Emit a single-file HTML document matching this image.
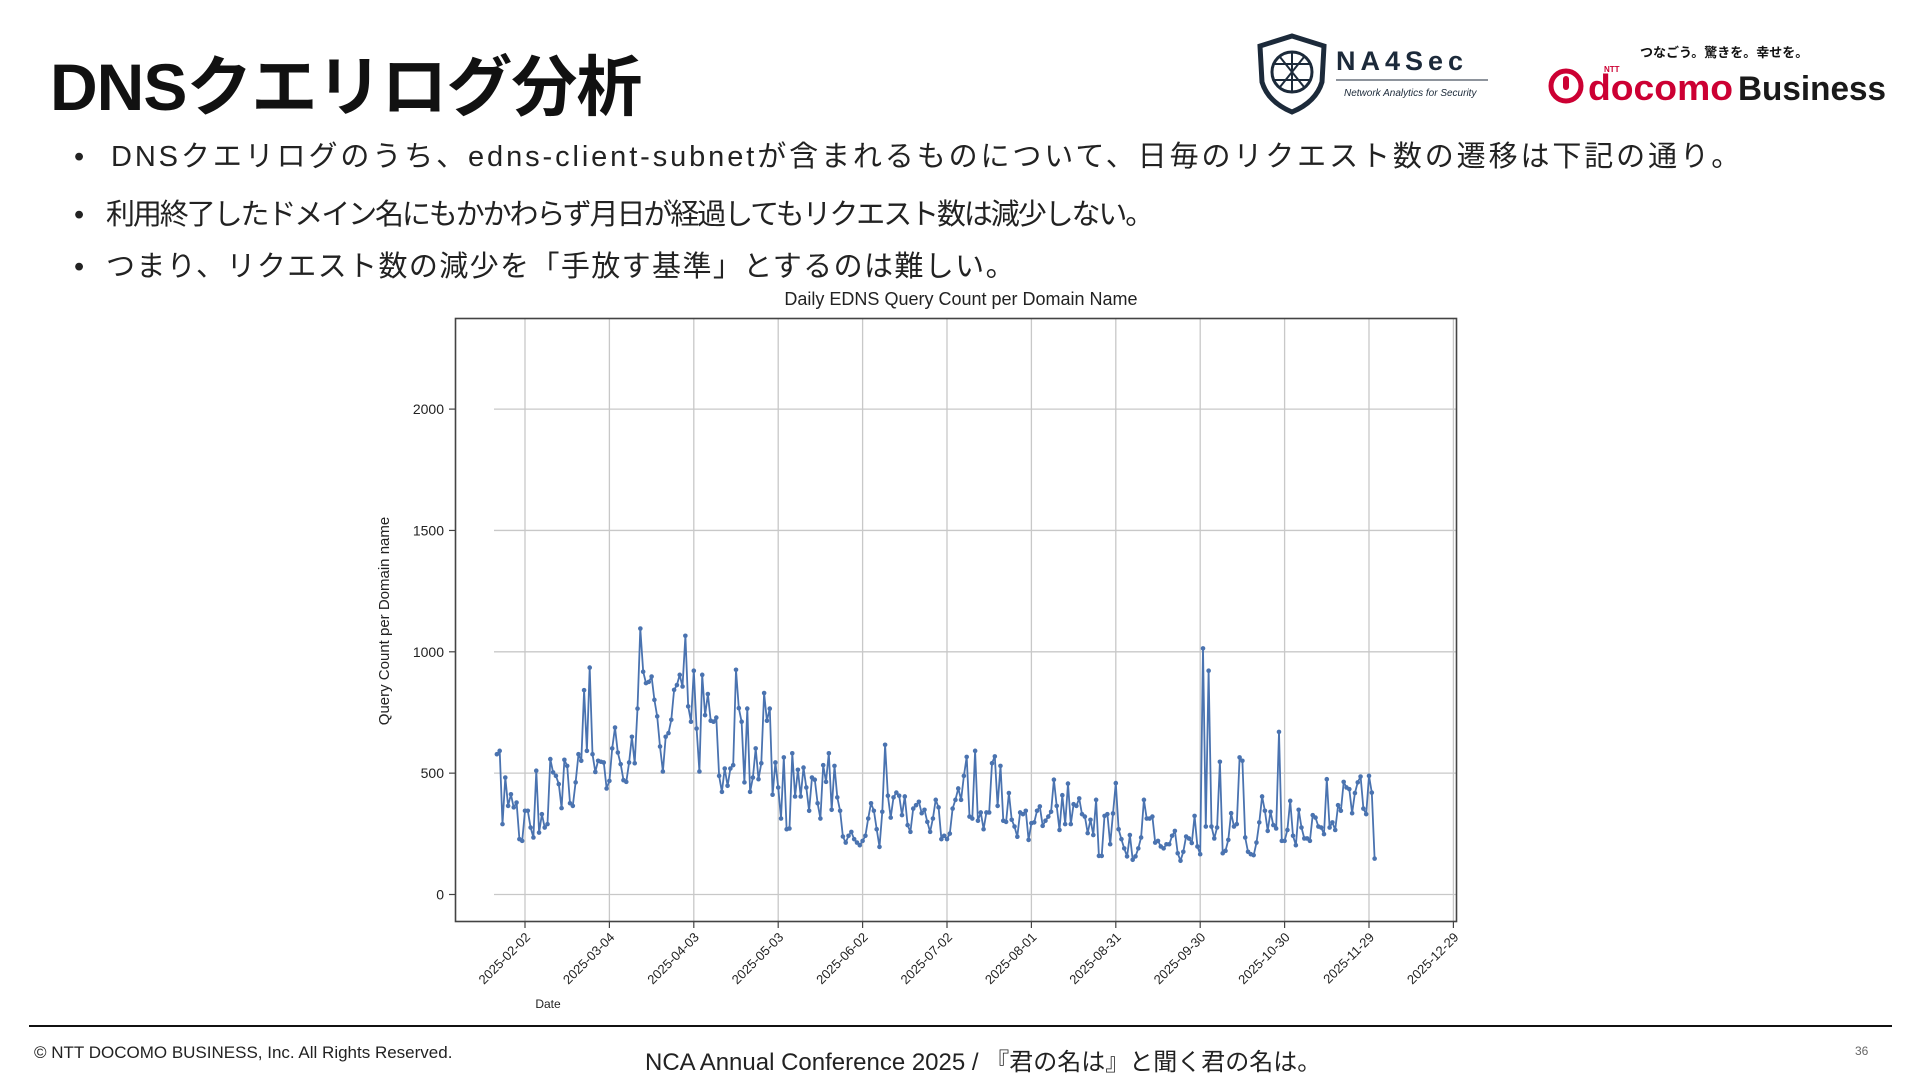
<!DOCTYPE html>
<html><head><meta charset="utf-8">
<style>
html,body{margin:0;padding:0;background:#fff;}
body{width:1920px;height:1080px;position:relative;overflow:hidden;font-family:"Liberation Sans","Noto Sans CJK JP",sans-serif;color:#111;}
.abs{position:absolute;white-space:nowrap;}
#title{left:50px;top:34px;font-size:66px;font-weight:700;letter-spacing:-1px;font-family:"Liberation Sans","Noto Sans CJK JP",sans-serif;}
.bul{font-size:29px;font-family:"Liberation Sans","Noto Sans CJK JP",sans-serif;color:#222;}
.dot{font-size:29px;font-family:"Liberation Sans",sans-serif;color:#222;}
</style></head>
<body>
<div class="abs" id="title">DNSクエリログ分析</div>

<div class="abs dot" style="left:74px;top:141px">•</div>
<div class="abs bul" style="left:111px;top:133px;letter-spacing:2.9px">DNSクエリログのうち、edns-client-subnetが含まれるものについて、日毎のリクエスト数の遷移は下記の通り。</div>
<div class="abs dot" style="left:74px;top:199px">•</div>
<div class="abs bul" style="left:106px;top:191px;letter-spacing:-2.1px">利用終了したドメイン名にもかかわらず月日が経過してもリクエスト数は減少しない。</div>
<div class="abs dot" style="left:74px;top:251px">•</div>
<div class="abs bul" style="left:106px;top:243px;letter-spacing:1.4px">つまり、リクエスト数の減少を「手放す基準」とするのは難しい。</div>

<!-- NA4Sec logo -->
<svg class="abs" style="left:1252px;top:32px" width="240" height="84">
  <path d="M40 4 L72 14 L70 50 Q64 70 40 80 Q16 70 10 50 L8 14 Z" fill="none" stroke="#1c2a3a" stroke-width="5"/>
  <circle cx="40" cy="40" r="20" fill="none" stroke="#1c2a3a" stroke-width="3"/>
  <path d="M22 32 L58 32 M22 48 L58 48 M40 20 L40 60 M28 25 L52 55 M52 25 L28 55" stroke="#1c2a3a" stroke-width="2"/>
  <text x="84" y="38" font-family="Liberation Sans, sans-serif" font-size="27" font-weight="700" letter-spacing="5" fill="#1c2a3a">NA4Sec</text>
  <line x1="84" y1="48" x2="236" y2="48" stroke="#1c2a3a" stroke-width="1"/>
  <text x="92" y="64" font-family="Liberation Sans, sans-serif" font-size="10" font-style="italic" fill="#1c2a3a">Network Analytics for Security</text>
</svg>

<!-- docomo business logo -->
<div class="abs" style="left:1640px;top:42px;font-size:13px;font-weight:700;font-family:'Liberation Sans','Noto Sans CJK JP',sans-serif;">つなごう。驚きを。幸せを。</div>
<svg class="abs" style="left:1548px;top:62px" width="345" height="48">
  <circle cx="18" cy="24" r="15" fill="none" stroke="#cc0033" stroke-width="5"/>
  <rect x="15" y="14" width="6" height="14" rx="3" fill="#cc0033"/>
  <text x="40" y="38" font-family="Liberation Sans, sans-serif" font-size="36" font-weight="700" fill="#cc0033" textLength="145" lengthAdjust="spacingAndGlyphs">docomo</text>
  <text x="56" y="10" font-family="Liberation Sans, sans-serif" font-size="8" font-weight="700" fill="#cc0033">NTT</text>
  <text x="190" y="38" font-family="Liberation Sans, sans-serif" font-size="34" font-weight="700" fill="#1a1a1a" textLength="148" lengthAdjust="spacingAndGlyphs">Business</text>
</svg>

<!-- Chart -->
<svg class="abs" id="chart" style="left:0;top:0" width="1920" height="1040">
  <text x="961" y="305" text-anchor="middle" font-family="Liberation Sans, sans-serif" font-size="18" fill="#222">Daily EDNS Query Count per Domain Name</text>
  <g id="grid"></g>
  <rect x="455.5" y="318.5" width="1001" height="603" fill="none" stroke="#444" stroke-width="1.6"/>
  <g id="series"></g>
  <g id="axes"></g>
  <text transform="translate(389,621) rotate(-90)" text-anchor="middle" font-family="Liberation Sans, sans-serif" font-size="15" fill="#222">Query Count per Domain name</text>
  <text x="548" y="1008" text-anchor="middle" font-family="Liberation Sans, sans-serif" font-size="12" fill="#222">Date</text>
</svg>

<div class="abs" style="left:29px;top:1025px;width:1863px;height:2px;background:#111"></div>
<div class="abs" style="left:34px;top:1043px;font-size:17px;color:#222">© NTT DOCOMO BUSINESS, Inc. All Rights Reserved.</div>
<div class="abs" style="left:645px;top:1042px;font-size:24px;color:#222">NCA Annual Conference 2025 / 『君の名は』と聞く君の名は。</div>
<div class="abs" style="left:1855px;top:1044px;font-size:12px;color:#666">36</div>

<script>
const yTicks = [0, 500, 1000, 1500, 2000];
const xTickLabels = ["2025-02-02","2025-03-04","2025-04-03","2025-05-03","2025-06-02","2025-07-02","2025-08-01","2025-08-31","2025-09-30","2025-10-30","2025-11-29","2025-12-29"];
const seriesStart = "2025-01-23";
const seriesEnd = "2025-12-01";
const queryCounts = [
578,592,290,482,365,413,359,379,228,221,345,345,276,235,510,255,331,276,290,558,503,489,455,356,555,530,376,365,462,578,551,842,592,935,578,505,551,547,544,437,468,602,688,585,537,471,464,544,650,541,766,1096,918,871,876,898,802,734,610,507,650,665,720,843,863,905,857,1066,775,712,922,684,507,905,739,826,716,712,729,489,
423,519,448,519,533,926,768,712,462,766,423,482,602,475,541,830,716,766,411,544,441,313,565,269,272,582,404,514,404,523,441,345,482,473,376,313,533,464,582,349,530,400,345,239,214,242,258,228,214,203,221,242,313,376,345,269,196,341,617,407,317,400,420,407,327,404,286,258,354,368,382,335,349,299,258,313,390,359,
228,242,228,251,354,390,437,390,489,567,321,313,592,304,338,269,338,338,541,569,365,530,304,299,418,308,280,238,338,331,345,225,294,297,345,363,283,304,321,341,473,365,266,409,290,457,290,372,365,396,331,321,253,308,245,390,159,159,324,331,207,334,459,269,228,190,157,245,143,157,190,235,390,313,313,321,214,
221,198,190,207,207,242,262,170,139,176,239,231,212,324,198,166,1014,280,922,280,231,276,547,170,180,225,335,280,290,565,551,235,176,166,162,214,297,404,345,262,341,286,272,670,221,221,266,386,242,203,349,276,231,231,221,327,317,280,276,249,475,276,297,266,368,345,464,441,434,335,418,462,486,354,331,489,420,148
];

const NS = "http://www.w3.org/2000/svg";
const DAY = 86400000;
const refDate = Date.parse("2025-02-02");
const refX = 525, pxPerDay = 84.4/30;
function xScale(ms){ return refX + (ms - refDate)/DAY*pxPerDay; }
const y0 = 894.5, pxPerUnit = 0.2427;
function yScale(v){ return y0 - v*pxPerUnit; }
function mk(tag, attrs, parent){ const e=document.createElementNS(NS,tag); for(const k in attrs) e.setAttribute(k, attrs[k]); parent.appendChild(e); return e; }

const grid = document.getElementById('grid');
const axes = document.getElementById('axes');
const series = document.getElementById('series');

yTicks.forEach(v=>{
  const y = yScale(v);
  const g = mk('line',{x1:494,x2:1456,y1:y,y2:y,stroke:'#c8c8c8','stroke-width':1.3},grid);
  
  
  const t = mk('line',{x1:449,x2:455,y1:y,y2:y,stroke:'#444','stroke-width':1.2},axes);
  
  
  const l = mk('text',{x:444,y:y+5,'text-anchor':'end','font-family':'Liberation Sans, sans-serif','font-size':14,fill:'#222'},axes);
  l.textContent = v;
  
  
});

xTickLabels.forEach(d=>{
  const x = xScale(Date.parse(d));
  const g = mk('line',{x1:x,x2:x,y1:319,y2:921,stroke:'#c8c8c8','stroke-width':1.3},grid);
  
  
  const t = mk('line',{x1:x,x2:x,y1:922,y2:928,stroke:'#444','stroke-width':1.2},axes);
  
  
  const l = mk('text',{transform:`translate(${x+6},${938}) rotate(-45)`,'text-anchor':'end','font-family':'Liberation Sans, sans-serif','font-size':13,fill:'#222'},axes);
  l.textContent = d;
  
  
});

const s0 = Date.parse(seriesStart), s1 = Date.parse(seriesEnd);
const n = queryCounts.length;
const pts = queryCounts.map((v,i)=>[xScale(s0 + (s1-s0)*i/(n-1)), yScale(v)]);
const line = mk('polyline',{points:pts.map(p=>p[0].toFixed(1)+','+p[1].toFixed(1)).join(' '),fill:'none',stroke:'#4a73b0','stroke-width':1.8,'stroke-linejoin':'round'},series);


pts.forEach(p=>{
  const c = mk('circle',{cx:p[0],cy:p[1],r:2.3,fill:'#4a73b0'},series);
  
  
});
</script>
</body></html>
